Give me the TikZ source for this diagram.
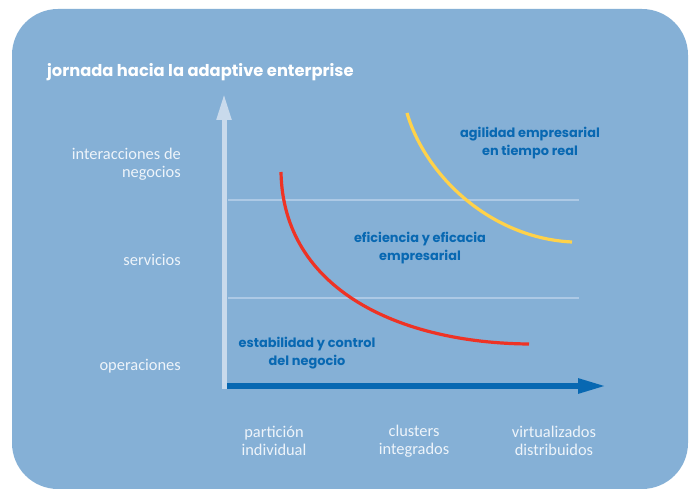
\documentclass[tikz,border=0pt]{standalone}
\usepackage{fontspec}
\setmainfont{Carlito}
\newfontfamily\boldfam{Poppins}
\usetikzlibrary{arrows.meta}
\definecolor{bgblue}{HTML}{85B0D6}
\definecolor{axislight}{HTML}{C9DAEC}
\definecolor{gridline}{HTML}{ADC9E5}
\definecolor{darkblue}{HTML}{0868B2}
\definecolor{curvered}{HTML}{EE3325}
\definecolor{curveyellow}{HTML}{FFD24A}
\definecolor{labelwhite}{HTML}{EEF4FA}
\tikzset{
  x=1pt, y=-1pt,
  axislbl/.style={text=labelwhite, font=\fontsize{16.4}{18}\selectfont, inner sep=0pt},
  bluelbl/.style={text=darkblue, font=\boldfam\bfseries\fontsize{12.9}{18}\selectfont, align=center, inner sep=0pt},
  gridln/.style={draw=gridline, line width=1.3pt},
  curve/.style={line width=3.2pt},
}
\begin{document}
\begin{tikzpicture}
\useasboundingbox (0,0) rectangle (689,489);
\fill[white] (0,0) rectangle (689,489);
\fill[bgblue, rounded corners=46pt] (12,9) rectangle (688,489);

% title
\node[anchor=west, text=white, font=\boldfam\bfseries\fontsize{16.3}{18}\selectfont, inner sep=0pt] (title) at (47,72) {jornada hacia la adaptive enterprise};

% axes coordinates
\coordinate (ybot) at (224,389);
\coordinate (ytop) at (224,94);
\coordinate (xleft) at (227,386);
\coordinate (xright) at (606,386);
\coordinate (g1a) at (228,200);
\coordinate (g1b) at (579,200);
\coordinate (g2a) at (228,298);
\coordinate (g2b) at (579,298);

% grid lines
\draw[gridln] (g1a) -- (g1b);
\draw[gridln] (g2a) -- (g2b);

% y axis
\draw[axislight, line width=5pt, -{Triangle[length=26pt,width=14pt]}] (ybot) -- (ytop);
% x axis
\draw[darkblue, line width=5.5pt, -{Triangle[length=28pt,width=14pt]}] (xleft) -- (xright);

% curves
\coordinate (r0) at (281,172);
\coordinate (r1) at (529,344);
\draw[curvered, curve] (r0) .. controls (283,290) and (400,343) .. (r1);
\coordinate (y0) at (407,113);
\coordinate (y1) at (572,242);
\draw[curveyellow, curve] (y0) .. controls (425,175) and (490,238) .. (y1);

% left labels
\node[axislbl, anchor=east, align=right] (l1) at (181,164) {interacciones de\\negocios};
\node[axislbl, anchor=east] (l2) at (181,260) {servicios};
\node[axislbl, anchor=east] (l3) at (181,366) {operaciones};

% bottom labels
\node[axislbl, align=center] (b1) at (274,441) {partición\\individual};
\node[axislbl, align=center] (b2) at (414,441) {clusters\\integrados};
\node[axislbl, align=center] (b3) at (554,441) {virtualizados\\distribuidos};

% blue labels
\node[bluelbl] (t1) at (530,143) {agilidad empresarial\\en tiempo real};
\node[bluelbl] (t2) at (420,248) {eficiencia y eficacia\\empresarial};
\node[bluelbl] (t3) at (307,353) {estabilidad y control\\del negocio};
\end{tikzpicture}
\end{document}
